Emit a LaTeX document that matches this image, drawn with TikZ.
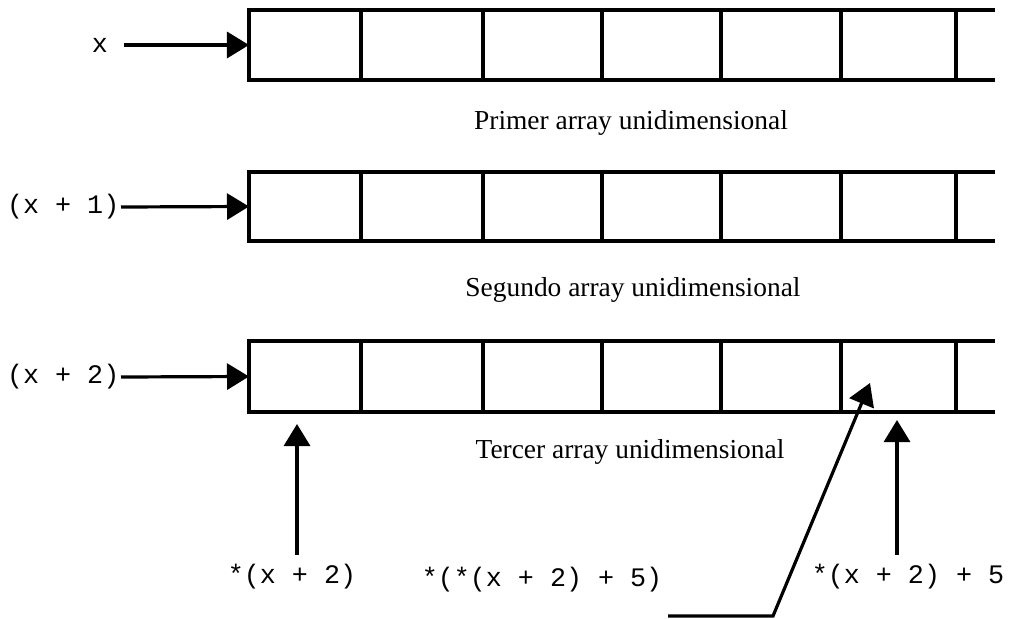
\documentclass[tikz,border=0pt]{standalone}
\usepackage{fontspec}
\setmainfont{Liberation Serif}
\setmonofont{Liberation Mono}
\usetikzlibrary{arrows.meta, calc}

\begin{document}
\begin{tikzpicture}[x=0.025cm, y=-0.025cm,
	cellline/.style={line width=0.9mm},
	ptr/.style={line width=0.8mm, -{Triangle[length=5.5mm, width=6.5mm]}},
	lbl/.style={font=\ttfamily\fontsize{19}{21}\selectfont, inner sep=1pt},
	caption/.style={font=\fontsize{19.5}{21}\selectfont, inner sep=1pt}]
	\useasboundingbox (0,0) rectangle (1011,618);
	% the three arrays
	\foreach \t/\b/\n in {10/80/1, 172/241/2, 341/412/3} {
		\draw[cellline] (995,\t) -- (249,\t) -- (249,\b) -- (995,\b);
		\foreach \c in {361,483,602,721,841,956}
			\draw[cellline] (\c,\t) -- (\c,\b);
		\coordinate (row\n) at (249,{(\t+\b)/2});
	}
	% pointers to the rows
	\node[lbl] (px) at (100,45) {x};
	\node[lbl, anchor=east] (px1) at (121,207) {(x + 1)};
	\node[lbl, anchor=east] (px2) at (121,377) {(x + 2)};
	\draw[ptr, shorten <=3.5mm] (px.east) -- (row1);
	\draw[ptr] (px1.east) -- (row2);
	\draw[ptr] (px2.east) -- (row3);
	\node[caption] (cap1) at (631,123) {Primer array unidimensional};
	\node[caption] (cap2) at (633,290) {Segundo array unidimensional};
	\node[caption] (cap3) at (630,452) {Tercer array unidimensional};
	% elements of the third row
	\node[lbl] (deref) at (292,577) {*(x + 2)};
	\node[lbl] (deref5) at (542,580) {*(*(x + 2) + 5)};
	\node[lbl] (ptr5) at (908,577) {*(x + 2) + 5};
	\coordinate (tipA) at (297,424);
	\coordinate (tipB) at (897,420);
	\coordinate (tipC) at (870,383);
	\coordinate (tail) at (668,616);
	\coordinate (bend) at (773,616);
	\draw[ptr, shorten <=2mm] (tipA |- deref.north) -- (tipA);
	\draw[ptr, shorten <=2mm] (tipB |- ptr5.north) -- (tipB);
	\draw[ptr] (tail) -- (bend) -- (tipC);
\end{tikzpicture}
\end{document}
